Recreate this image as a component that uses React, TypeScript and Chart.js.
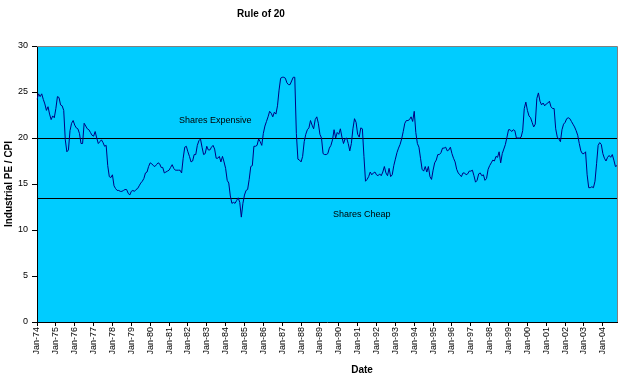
import { useEffect, useRef } from 'react';
import { Chart, registerables } from 'chart.js';

Chart.register(...registerables);

const FONT = '"Liberation Sans", Arial, Helvetica, sans-serif';

const MONTHS = ['Jan', 'Feb', 'Mar', 'Apr', 'May', 'Jun', 'Jul', 'Aug', 'Sep', 'Oct', 'Nov', 'Dec'];
const START_YEAR = 1974;

// Industrial PE / CPI, monthly from Jan-74
const pe1974to1979 = [
  24.2, 24.8, 24.5, 24.8, 24.2, 23.7, 23.0, 23.4, 22.6, 22.0, 22.4, 22.2,
  23.2, 24.5, 24.4, 23.6, 23.5, 23.0, 19.8, 18.5, 18.7, 20.8, 21.6, 21.9,
  21.4, 21.1, 21.0, 20.5, 19.4, 19.4, 21.6, 21.3, 21.0, 20.9, 20.6, 20.3,
  20.2, 20.7, 20.0, 19.4, 19.6, 19.8, 19.5, 19.1, 19.2, 17.0, 15.8, 15.7,
  16.0, 14.8, 14.5, 14.3, 14.3, 14.2, 14.2, 14.3, 14.4, 14.4, 14.0, 13.8,
  14.2, 14.3, 14.2, 14.4, 14.5, 14.8, 15.1, 15.3, 15.6, 16.2, 16.3, 16.9,
];
const pe1980to1989 = [
  17.3, 17.2, 17.0, 16.9, 17.1, 17.3, 17.2, 16.8, 16.8, 16.2, 16.3, 16.4,
  16.5, 16.8, 17.1, 16.7, 16.5, 16.5, 16.5, 16.5, 16.2, 17.8, 19.0, 19.1,
  18.5, 18.0, 17.4, 17.5, 18.2, 18.2, 19.2, 19.7, 19.9, 19.0, 18.2, 18.3,
  19.1, 18.7, 18.7, 19.0, 19.2, 18.8, 17.8, 17.8, 18.0, 17.4, 18.0, 17.4,
  16.7, 15.4, 15.1, 13.7, 12.9, 13.0, 12.9, 13.2, 13.5, 13.0, 11.4, 12.9,
  13.8, 14.3, 14.4, 15.5, 16.9, 17.0, 19.1, 19.1, 19.2, 19.9, 19.6, 19.2,
  20.5, 21.3, 21.8, 22.3, 22.9, 22.7, 22.3, 22.8, 22.6, 23.5, 25.2, 26.5,
  26.6, 26.6, 26.5, 26.0, 25.8, 25.8, 26.2, 26.6, 26.6, 20.5, 17.7, 17.6,
  17.4, 18.0, 19.6, 20.4, 20.9, 21.1, 21.9, 21.4, 21.0, 22.0, 22.3, 21.6,
  20.4, 20.0, 18.3, 18.2, 18.2, 18.3, 18.9, 19.2, 19.8, 20.9, 20.0, 20.6,
];
const pe1990to1999 = [
  20.4, 21.0, 20.1, 19.4, 19.9, 20.0, 19.4, 18.6, 19.4, 21.0, 22.1, 21.7,
  20.4, 20.1, 21.1, 21.0, 18.0, 15.3, 15.5, 15.8, 16.3, 16.0, 16.2, 16.3,
  16.0, 15.9, 16.1, 15.9, 16.3, 16.9, 16.2, 15.9, 16.7, 15.8, 16.0, 17.0,
  17.7, 18.4, 18.9, 19.3, 19.9, 20.7, 21.6, 21.9, 21.9, 22.0, 22.3, 21.8,
  22.9, 20.6, 19.4, 19.0, 17.8, 16.6, 16.4, 16.9, 16.3, 16.9, 15.8, 15.5,
  16.5, 17.3, 17.6, 18.2, 18.2, 18.4, 18.9, 18.9, 19.0, 18.6, 18.7, 19.0,
  18.3, 17.8, 17.4, 16.6, 16.2, 16.0, 15.8, 16.2, 16.2, 16.0, 16.1, 16.4,
  16.4, 16.5, 15.9, 15.2, 15.4, 16.1, 16.2, 15.9, 16.0, 15.4, 15.6, 16.6,
  17.0, 17.3, 17.6, 17.5, 18.0, 17.9, 18.5, 17.3, 18.3, 18.8, 19.3, 20.1,
  20.9, 20.9, 20.7, 20.9, 20.8, 20.0, 20.0, 20.0, 20.1, 20.8, 23.2, 23.9,
];
const pe2000to2004 = [
  23.0, 22.4, 22.2, 21.7, 21.2, 21.5, 24.3, 24.9, 24.0, 23.6, 23.8, 23.5,
  23.7, 23.8, 24.0, 23.4, 23.2, 23.2, 21.0, 20.1, 19.9, 19.6, 20.9, 21.5,
  21.7, 22.1, 22.2, 22.1, 21.8, 21.5, 21.2, 20.8, 20.3, 19.4, 18.6, 18.3,
  18.3, 18.5, 16.0, 14.6, 14.6, 14.7, 14.6, 15.3, 17.2, 19.2, 19.5, 19.3,
  18.3, 17.8, 17.5, 17.9, 18.1, 17.9, 18.2, 17.6, 16.9, 17.0,
];

const peValues = [...pe1974to1979, ...pe1980to1989, ...pe1990to1999, ...pe2000to2004];
const dateLabels = peValues.map(
  (_, i) => `${MONTHS[i % 12]}-${String((START_YEAR + Math.floor(i / 12)) % 100).padStart(2, '0')}`
);

const Y_MIN = 0;
const Y_MAX = 30;
const Y_STEP = 5;

const EXPENSIVE_LEVEL = 20;
const CHEAP_LEVEL = 13.5;

const TITLE = 'Rule of 20';
const X_TITLE = 'Date';
const Y_TITLE = 'Industrial PE / CPI';
const EXPENSIVE_TEXT = 'Shares Expensive';
const CHEAP_TEXT = 'Shares Cheap';

const decorPlugin = {
  id: 'decor',
  beforeDraw(chart: any) {
    const { ctx, chartArea } = chart;
    ctx.save();
    ctx.fillStyle = '#ffffff';
    ctx.fillRect(0, 0, chart.width, chart.height);
    ctx.fillStyle = '#00CCFF';
    ctx.fillRect(chartArea.left, chartArea.top, chartArea.right - chartArea.left, chartArea.bottom - chartArea.top);
    ctx.restore();
  },
  beforeDatasetsDraw(chart: any) {
    const { ctx, chartArea, scales } = chart;
    const y = scales.y;
    ctx.save();
    ctx.strokeStyle = '#000000';
    ctx.lineWidth = 1;
    [EXPENSIVE_LEVEL, CHEAP_LEVEL].forEach((lvl) => {
      const py = Math.round(y.getPixelForValue(lvl)) + 0.5;
      ctx.beginPath();
      ctx.moveTo(chartArea.left, py);
      ctx.lineTo(chartArea.right, py);
      ctx.stroke();
    });
    // text annotations
    ctx.fillStyle = '#000000';
    ctx.font = `9px ${FONT}`;
    ctx.textAlign = 'left';
    ctx.textBaseline = 'middle';
    ctx.fillText(EXPENSIVE_TEXT, chartArea.left + 142, y.getPixelForValue(EXPENSIVE_LEVEL) - 17);
    ctx.fillText(CHEAP_TEXT, chartArea.left + 296, y.getPixelForValue(CHEAP_LEVEL) + 17);
    ctx.restore();
  },
  afterDraw(chart: any) {
    const { ctx, chartArea } = chart;
    ctx.save();
    // grey top/right frame
    ctx.strokeStyle = '#808080';
    ctx.lineWidth = 1;
    ctx.beginPath();
    ctx.moveTo(chartArea.left, Math.round(chartArea.top) + 0.5);
    ctx.lineTo(Math.round(chartArea.right) + 0.5, Math.round(chartArea.top) + 0.5);
    ctx.lineTo(Math.round(chartArea.right) + 0.5, chartArea.bottom);
    ctx.stroke();

    ctx.fillStyle = '#000000';
    ctx.textAlign = 'center';
    ctx.textBaseline = 'middle';
    ctx.font = `bold 10px ${FONT}`;
    ctx.fillText(TITLE, 261, 14);
    ctx.fillText(X_TITLE, 362, 370);
    ctx.translate(9, (chartArea.top + chartArea.bottom) / 2);
    ctx.rotate(-Math.PI / 2);
    ctx.fillText(Y_TITLE, 0, 0);
    ctx.restore();
  },
};

export default function App() {
  const ref = useRef<HTMLCanvasElement>(null);

  useEffect(() => {
    if (!ref.current) return;
    const chart = new Chart(ref.current, {
      type: 'line',
      data: {
        labels: dateLabels,
        datasets: [
          {
            label: Y_TITLE,
            data: peValues,
            borderColor: '#000080',
            borderWidth: 1,
            pointRadius: 0,
            tension: 0,
            fill: false,
          },
        ],
      },
      options: {
        responsive: false,
        devicePixelRatio: 1,
        animation: false,
        events: [],
        layout: { padding: { top: 46, right: 9, left: 0, bottom: 0 } },
        plugins: {
          legend: { display: false },
          tooltip: { enabled: false },
          title: { display: false },
        },
        scales: {
          x: {
            type: 'category',
            offset: false,
            grid: {
              drawOnChartArea: false,
              drawTicks: true,
              tickLength: 4,
              color: '#000000',
              offset: false,
            },
            border: { display: true, color: '#000000', width: 1 },
            ticks: {
              autoSkip: false,
              maxRotation: 90,
              minRotation: 90,
              padding: 1,
              color: '#000000',
              font: { family: FONT, size: 9 },
              callback: (_v: any, i: number) => (i % 12 === 0 ? dateLabels[i] : null),
            },
            afterFit: (s: any) => {
              s.height = 62;
            },
          },
          y: {
            min: Y_MIN,
            max: Y_MAX,
            grid: {
              drawOnChartArea: false,
              drawTicks: true,
              tickLength: 5,
              color: '#000000',
            },
            border: { display: true, color: '#000000', width: 1 },
            ticks: {
              stepSize: Y_STEP,
              padding: 4,
              color: '#000000',
              font: { family: FONT, size: 9 },
            },
            afterFit: (s: any) => {
              s.width = 37;
            },
          },
        },
      },
      plugins: [decorPlugin],
    });
    return () => chart.destroy();
  }, []);

  return (
    <div style={{ position: 'fixed', left: 0, top: 0, width: 626, height: 384, background: '#fff' }}>
      <canvas ref={ref} width={626} height={384} style={{ display: 'block', width: 626, height: 384 }} />
    </div>
  );
}
